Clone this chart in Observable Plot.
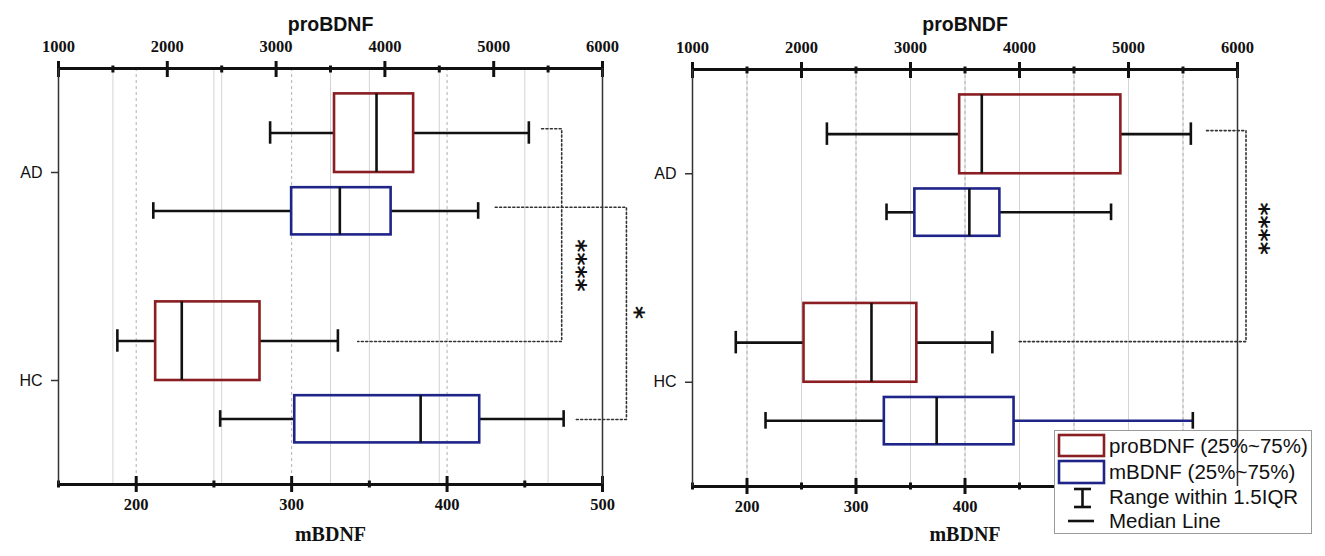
<!DOCTYPE html>
<html><head><meta charset="utf-8">
<script src="https://cdn.jsdelivr.net/npm/d3@7"></script>
<script src="https://cdn.jsdelivr.net/npm/@observablehq/plot@0.6"></script>
<style>
html,body{margin:0;padding:0;background:#fff;}
#stage{position:relative;width:1325px;height:556px;overflow:hidden;background:#fff;}
.layer{position:absolute;top:0;height:556px;}
.layer svg{display:block;max-width:none;}
#legend{position:absolute;left:1054px;top:430px;width:258px;height:104px;border:1px solid #9a9a9a;background:#fff;box-sizing:border-box;font-family:"Liberation Sans",Arial,sans-serif;font-size:20.5px;color:#111;}
#legend .lt{position:absolute;left:54px;height:24px;line-height:24px;white-space:nowrap;}
</style></head>
<body><div id="stage"></div>
<script>
const categories = ["AD", "HC"];

// Left panel: proBDNF (top axis) and mBDNF (bottom axis)
const leftProLow  = [2945, 1541];
const leftProQ1   = [3537, 1893];
const leftProMed  = [3923, 2133];
const leftProQ3   = [4264, 2852];
const leftProHigh = [5323, 3568];
const leftMLow  = [211, 254];
const leftMQ1   = [300, 302];
const leftMMed  = [331, 383];
const leftMQ3   = [364, 421];
const leftMHigh = [420, 475];

// Right panel
const rightProLow  = [2233, 1397];
const rightProQ1   = [3451, 2023];
const rightProMed  = [3654, 2642];
const rightProQ3   = [4930, 3058];
const rightProHigh = [5572, 3751];
const rightMLow  = [328, 217];
const rightMQ1   = [354, 326];
const rightMMed  = [404, 374];
const rightMQ3   = [432, 445];
const rightMHigh = [534, 609];

// axes
const topDomain = [1000, 6000];
const topTicksMajor = [1000, 2000, 3000, 4000, 5000, 6000];
const topTicksMinor = [1500, 2500, 3500, 4500, 5500];
const leftBottomDomain = [150, 500];
const leftBottomMajor = [200, 300, 400, 500];
const leftBottomMinor = [150, 250, 350, 450];
const leftBottomLabels = [200, 300, 400, 500];
const rightBottomDomain = [150, 650];
const rightBottomMajor = [200, 300, 400, 500, 600];
const rightBottomMinor = [150, 250, 350, 450, 550, 650];
const rightBottomLabels = [200, 300, 400]; // 500 and 600 are hidden behind the legend

// significance annotations (x in proBDNF units, y in category-index units)
const leftBracketX = [[5440, 5625, 5625, 3750], [5014, 6220, 6220, 5749]];
const leftBracketY = [[-0.21, -0.21, 0.8125, 0.8125], [0.167, 0.167, 1.1875, 1.1875]];
const leftStars = ["****", "*"];
const leftStarX = [5770, 6297];
const leftStarY = [0.447, 0.673];
const rightBracketX = [[5716, 6078, 6078, 3996]];
const rightBracketY = [[-0.207, -0.207, 0.805, 0.805]];
const rightStars = ["****"];
const rightStarX = [6207];
const rightStarY = [0.263];

const legendLabels = ["proBDNF (25%~75%)", "mBDNF (25%~75%)", "Range within 1.5IQR", "Median Line"];

// styles / layout
const RED = "#8a1e22", BLUE = "#1e2488", INK = "#111";
const Y_DOMAIN = [-0.5, 1.5];
const RED_BOX = [-0.378, 0], RED_WHISK = -0.19, RED_CAP = 0.054;
const BLUE_BOX = [0.073, 0.30], BLUE_WHISK = 0.185, BLUE_CAP = 0.04;
const LW = 2.6;
const fmt = d => String(d);

const stage = document.getElementById("stage");
function addLayer(left, width, svg) {
  const d = document.createElement("div");
  d.className = "layer";
  d.style.left = left + "px";
  d.style.width = width + "px";
  d.appendChild(svg);
  stage.appendChild(d);
}
function rows(lo, q1, med, q3, hi) {
  return categories.map((c, i) => ({c, i, lo: lo[i], q1: q1[i], med: med[i], q3: q3[i], hi: hi[i]}));
}
function boxMarks(data, color, box, wy, cap, coloredUpper) {
  return [
    Plot.ruleY(data, {y: d => d.i + wy, x1: "lo", x2: "q1", stroke: INK, strokeWidth: LW}),
    Plot.ruleY(data.filter(d => !coloredUpper.includes(d.c)), {y: d => d.i + wy, x1: "q3", x2: "hi", stroke: INK, strokeWidth: LW}),
    Plot.ruleY(data.filter(d => coloredUpper.includes(d.c)), {y: d => d.i + wy, x1: "q3", x2: "hi", stroke: color, strokeWidth: LW}),
    Plot.ruleX(data, {x: "lo", y1: d => d.i + wy - cap, y2: d => d.i + wy + cap, stroke: INK, strokeWidth: LW}),
    Plot.ruleX(data, {x: "hi", y1: d => d.i + wy - cap, y2: d => d.i + wy + cap, stroke: INK, strokeWidth: LW}),
    Plot.rect(data, {x1: "q1", x2: "q3", y1: d => d.i + box[0], y2: d => d.i + box[1], fill: "none", stroke: color, strokeWidth: LW}),
    Plot.ruleX(data, {x: "med", y1: d => d.i + box[0], y2: d => d.i + box[1], stroke: INK, strokeWidth: LW})
  ];
}

function panel(cfg) {
  const base = {
    width: cfg.width, height: 556,
    marginTop: cfg.mt, marginBottom: cfg.mb, marginLeft: cfg.ml, marginRight: cfg.mr,
    style: {background: "transparent", maxWidth: "none", overflow: "visible"}
  };
  const yS = {domain: Y_DOMAIN, reverse: true};
  const pro = rows(...cfg.pro);
  const mb = rows(...cfg.m);

  // layer 1: proBDNF grid
  const gridA = Plot.plot({...base,
    x: {domain: topDomain, axis: null}, y: {...yS, axis: null},
    marks: [Plot.gridX(topTicksMinor, {stroke: "#d4d4d4", strokeOpacity: 1, strokeWidth: 1})]
  });
  // layer 2: mBDNF scale (grid, blue boxes, bottom axis)
  const layerB = Plot.plot({...base,
    x: {domain: cfg.bottomDomain}, y: {...yS, axis: null},
    marks: [
      Plot.gridX(cfg.bottomMinor.filter(v => v > cfg.bottomDomain[0] && v < cfg.bottomDomain[1]), {stroke: "#d4d4d4", strokeOpacity: 1, strokeWidth: 1}),
      Plot.gridX(cfg.bottomMajor.filter(v => v < cfg.bottomDomain[1]), {stroke: "#b0b0b0", strokeOpacity: 1, strokeWidth: 1, strokeDasharray: "3,3"}),
      ...boxMarks(mb, BLUE, BLUE_BOX, BLUE_WHISK, BLUE_CAP, cfg.coloredUpper),
      Plot.ruleY([Y_DOMAIN[1]], {stroke: INK, strokeWidth: 3}),
      Plot.axisX(cfg.bottomMajor, {anchor: "bottom", tickSize: 16, dy: -8, fill: "none", stroke: INK, strokeWidth: 3, label: null}),
      Plot.axisX(cfg.bottomMinor, {anchor: "bottom", tickSize: 7, dy: -3.5, fill: "none", stroke: INK, strokeWidth: 3, label: null}),
      Plot.axisX(cfg.bottomLabels, {anchor: "bottom", tickSize: 0, tickPadding: 14, tickFormat: fmt, fontSize: 16.5, fontWeight: "bold", fontFamily: "Liberation Serif, serif", fill: INK, label: null}),
      Plot.text([cfg.bottomTitle], {text: d => d, frameAnchor: "bottom", dy: cfg.bottomTitleDy, fontSize: 20, fontWeight: "bold", fontFamily: "Liberation Serif, serif", fill: INK})
    ]
  });
  // layer 3: proBDNF scale (red boxes, top axis, y axis, annotations)
  const brackets = [];
  cfg.bracketX.forEach((xs, k) => xs.forEach((x, j) => brackets.push({k, x, y: cfg.bracketY[k][j]})));
  const stars = cfg.stars.map((s, k) => ({s, x: cfg.starX[k], y: cfg.starY[k]}));
  const layerA = Plot.plot({...base,
    x: {domain: topDomain}, y: yS,
    marks: [
      ...boxMarks(pro, RED, RED_BOX, RED_WHISK, RED_CAP, []),
      Plot.ruleY([Y_DOMAIN[0]], {stroke: INK, strokeWidth: 3}),
      Plot.axisX(topTicksMajor, {anchor: "top", tickSize: 16, dy: 8, fill: "none", stroke: INK, strokeWidth: 3, label: null}),
      Plot.axisX(topTicksMinor, {anchor: "top", tickSize: 7, dy: 3.5, fill: "none", stroke: INK, strokeWidth: 3, label: null}),
      Plot.axisX(topTicksMajor, {anchor: "top", tickSize: 0, tickPadding: 17, tickFormat: fmt, fontSize: 16.5, fontWeight: "bold", fontFamily: "Liberation Serif, serif", fill: INK, label: null}),
      Plot.axisY(categories.map((c, i) => i), {anchor: "left", tickSize: 7, tickPadding: 9, tickFormat: i => categories[i], fontSize: 16, fontFamily: "Liberation Sans, Arial, sans-serif", stroke: "#333", strokeWidth: 1.5, fill: INK, label: null}),
      Plot.text([cfg.topTitle], {text: d => d, frameAnchor: "top", dy: cfg.topTitleDy, fontSize: 19.5, fontWeight: "bold", fontFamily: "Liberation Sans, Arial, sans-serif", fill: INK}),
      Plot.line(brackets, {x: "x", y: "y", z: "k", stroke: "#333", strokeWidth: 1.6, strokeDasharray: "2,2.4"}),
      Plot.text(stars, {x: "x", y: "y", text: "s", rotate: 90, fontSize: 25, fontWeight: "bold", fontFamily: "DejaVu Sans, sans-serif", fill: INK})
    ]
  });
  // frame verticals (drawn last, above the legend)
  const frame = Plot.plot({...base,
    x: {domain: topDomain, axis: null}, y: {...yS, axis: null},
    marks: [Plot.ruleX(topDomain, {stroke: "#333", strokeWidth: 1.5})]
  });
  addLayer(cfg.left, cfg.width, gridA);
  addLayer(cfg.left, cfg.width, layerB);
  addLayer(cfg.left, cfg.width, layerA);
  return frame;
}

const frames = [];
frames.push([0, 640, panel({
  left: 0, width: 640, mt: 68, mb: 72, ml: 58, mr: 38,
  pro: [leftProLow, leftProQ1, leftProMed, leftProQ3, leftProHigh],
  m: [leftMLow, leftMQ1, leftMMed, leftMQ3, leftMHigh],
  bottomDomain: leftBottomDomain, bottomMajor: leftBottomMajor, bottomMinor: leftBottomMinor, bottomLabels: leftBottomLabels,
  coloredUpper: [],
  topTitle: "proBDNF", topTitleDy: -51, bottomTitle: "mBDNF", bottomTitleDy: 56,
  bracketX: leftBracketX, bracketY: leftBracketY,
  stars: leftStars, starX: leftStarX, starY: leftStarY
})]);
frames.push([640, 685, panel({
  left: 640, width: 685, mt: 69, mb: 70, ml: 52, mr: 88,
  pro: [rightProLow, rightProQ1, rightProMed, rightProQ3, rightProHigh],
  m: [rightMLow, rightMQ1, rightMMed, rightMQ3, rightMHigh],
  bottomDomain: rightBottomDomain, bottomMajor: rightBottomMajor, bottomMinor: rightBottomMinor, bottomLabels: rightBottomLabels,
  coloredUpper: ["HC"],
  topTitle: "proBNDF", topTitleDy: -52, bottomTitle: "mBDNF", bottomTitleDy: 54,
  bracketX: rightBracketX, bracketY: rightBracketY,
  stars: rightStars, starX: rightStarX, starY: rightStarY
})]);

// legend
const legend = document.createElement("div");
legend.id = "legend";
const ns = "http://www.w3.org/2000/svg";
const lsvg = document.createElementNS(ns, "svg");
lsvg.setAttribute("width", 258); lsvg.setAttribute("height", 104);
lsvg.style.position = "absolute"; lsvg.style.left = "0"; lsvg.style.top = "0";
lsvg.innerHTML =
  `<rect x="4" y="4" width="45" height="21" fill="none" stroke="${RED}" stroke-width="2.6"/>` +
  `<rect x="4" y="30" width="45" height="22" fill="none" stroke="${BLUE}" stroke-width="2.6"/>` +
  `<g stroke="${INK}" stroke-width="2.6"><line x1="27.5" y1="58" x2="27.5" y2="76"/><line x1="19" y1="58" x2="36" y2="58"/><line x1="19" y1="76" x2="36" y2="76"/>` +
  `<line x1="13" y1="90" x2="39" y2="90"/></g>`;
legend.appendChild(lsvg);
const centers = [15, 41, 66, 90];
legendLabels.forEach((t, k) => {
  const s = document.createElement("div");
  s.className = "lt";
  s.style.top = (centers[k] - 12) + "px";
  s.textContent = t;
  legend.appendChild(s);
});
stage.appendChild(legend);
frames.forEach(([l, w, svg]) => addLayer(l, w, svg));
</script>
</body></html>
